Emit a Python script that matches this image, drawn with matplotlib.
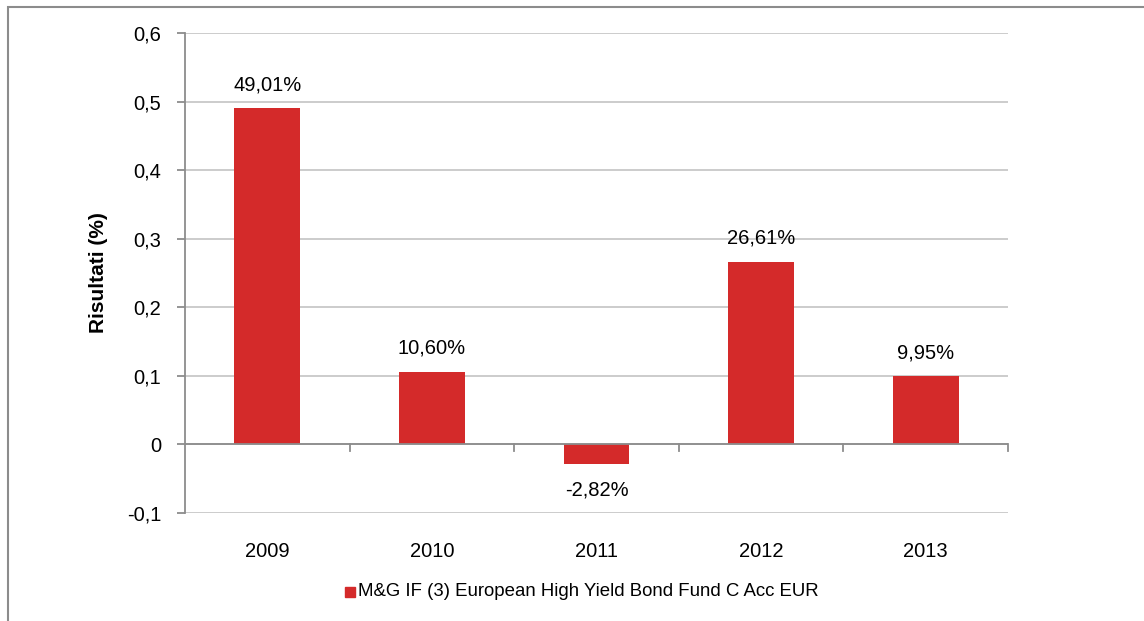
import numpy as np
import matplotlib
matplotlib.use("Agg")
import matplotlib.pyplot as plt
from matplotlib.patches import Rectangle

plt.rcParams['font.family'] = ['Liberation Sans', 'DejaVu Sans']

# Rendimenti annuali del fondo
anni = ["2009", "2010", "2011", "2012", "2013"]
risultati = [0.4901, 0.1060, -0.0282, 0.2661, 0.0995]
etichette = ["49,01%", "10,60%", "-2,82%", "26,61%", "9,95%"]
yticks = [-0.1, 0, 0.1, 0.2, 0.3, 0.4, 0.5, 0.6]
ytick_labels = ["-0,1", "0", "0,1", "0,2", "0,3", "0,4", "0,5", "0,6"]
nome_serie = "M&G IF (3) European High Yield Bond Fund C Acc EUR"

rosso = "#D42A2A"
grigio = "#8C8C8C"
fs = 14.5

fig = plt.figure(figsize=(11.44, 6.21), dpi=100)

# Cornice esterna del grafico
fig.patches.append(Rectangle((8 / 1144, -0.01), 1.2, 1 - 7 / 621 + 0.01,
                             transform=fig.transFigure, fill=False,
                             edgecolor=grigio, linewidth=1.5))

ax = fig.add_axes([185 / 1144, 1 - 513 / 621, (1008 - 185) / 1144, (513 - 33) / 621])

x = np.arange(len(anni))
ax.bar(x, risultati, width=0.4, color=rosso, zorder=3)

ax.set_xlim(-0.5, len(anni) - 0.5)
ax.set_ylim(-0.1, 0.6)
ax.set_yticks(yticks)
ax.set_yticklabels(ytick_labels, fontsize=fs)
ax.yaxis.grid(True, color="#C8C8C8", linewidth=1.3, zorder=0)

for s in ["top", "right", "bottom"]:
    ax.spines[s].set_visible(False)
ax.spines["left"].set_color(grigio)
ax.spines["left"].set_linewidth(1.3)
ax.tick_params(axis="y", length=6, color=grigio, width=1.3, pad=11)

# Asse dello zero con tacche tra le categorie
ax.axhline(0, color=grigio, linewidth=1.3, zorder=4)
for b in np.arange(0.5, len(anni), 1.0):
    ax.plot([b, b], [0, -0.009], color=grigio, linewidth=1.3, zorder=4, clip_on=False)

ax.set_xticks(x)
ax.set_xticklabels(anni, fontsize=fs)
ax.tick_params(axis="x", length=0, pad=21)

ax.set_ylabel("Risultati (%)", fontsize=15, fontweight="bold", labelpad=14)

for xi, v, lab in zip(x, risultati, etichette):
    off = 17 if v >= 0 else -19
    ax.annotate(lab, (xi, v), xytext=(0, off), textcoords="offset points",
                ha="center", va="center", fontsize=fs)

# Legenda
fig.patches.append(Rectangle((345 / 1144, 1 - 597 / 621), 10 / 1144, 10 / 621,
                             transform=fig.transFigure, color=rosso))
fig.text(358 / 1144, 1 - 592 / 621, nome_serie, fontsize=13.4,
         ha="left", va="center")

fig.savefig("out.png", dpi=100)
